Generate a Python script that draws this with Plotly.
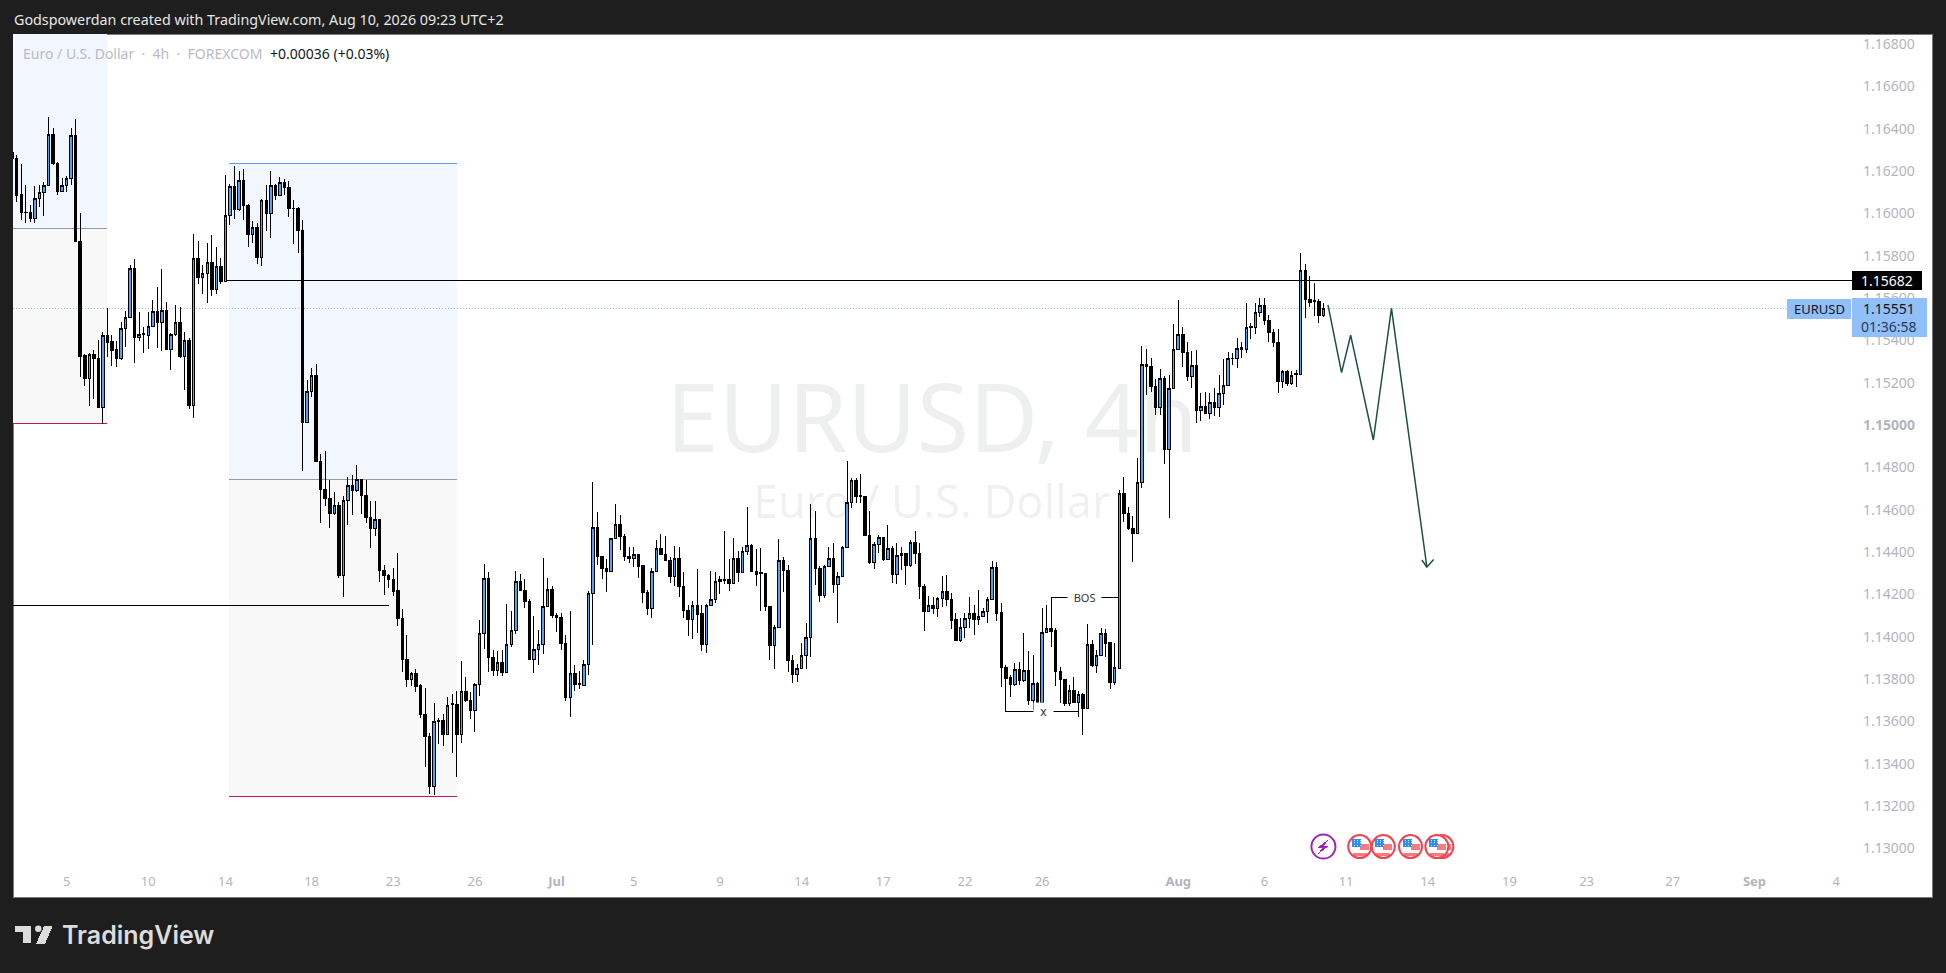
import plotly.graph_objects as go

# candle data in pipettes (1/100000 of a dollar)
opens_pts = [
116288,116260,116087,116006,116006,115976,116069,116099,116132,116373,
116236,116102,116132,116165,116369,115868,115326,115220,115335,115315,
115083,115424,115392,115357,115313,115457,115509,115740,115414,115430,
115424,115464,115537,115485,115542,115357,115427,115485,115323,115400,
115091,115787,115698,115716,115768,115638,115750,115677,115989,116128,
116019,116156,116038,115899,115934,115792,116061,115998,116132,116083,
116146,116123,116025,116024,115920,115011,115157,115233,114827,114696,
114654,114581,114621,114290,114644,114715,114692,114744,114668,114564,
114511,114555,114314,114290,114271,114216,114087,113893,113797,113824,
113767,113633,113529,113291,113605,113605,113539,113682,113681,113539,
113742,113699,113652,113775,114016,114276,113903,113840,113879,113832,
113964,114030,114262,114219,114167,113893,113940,113964,114144,114224,
114101,114092,113969,113712,113827,113777,113770,113870,114205,114517,
114378,114323,114307,114465,114531,114474,114380,114369,114389,114334,
114210,114133,114309,114418,114389,114361,114284,114370,114238,114125,
114081,114148,114107,113964,114145,114176,114261,114271,114271,114250,
114370,114304,114403,114431,114308,114301,114299,114143,113957,114044,
114360,114313,113889,113820,113850,113912,113997,114464,114324,114193,
114332,114371,114247,114286,114422,114634,114740,114668,114664,114480,
114349,114436,114469,114364,114417,114293,114384,114393,114335,114445,
114393,114239,114118,114148,114134,114179,114214,114176,114082,113984,
114044,114086,114107,114082,114096,114119,114176,114329,114112,113856,
113806,113776,113845,113792,113838,113697,113779,113688,114020,114039,
114027,113836,113798,113682,113746,113689,113727,113661,113964,113866,
113912,114015,113970,113782,113850,114677,114582,114512,114488,114729,
115287,115277,115184,115083,115220,114885,115173,115357,115428,115343,
115228,115282,115068,115088,115053,115107,115082,115149,115187,115316,
115315,115364,115357,115463,115461,115532,115565,115494,115438,115390,
115205,115253,115195,115241,115239,115731,115594,115586,115584,115518]

highs_pts = [
116291,116276,116233,116134,116039,116129,116134,116150,116455,116402,
116241,116165,116176,116402,116446,116000,115335,115338,115354,115401,
115441,115551,115425,115397,115485,115539,115756,115783,115532,115464,
115532,115590,115650,115735,115579,115433,115567,115556,115438,115409,
115902,115869,115756,115858,115898,115839,115787,116181,116137,116224,
116200,116209,116043,115964,115956,116066,116134,116200,116137,116170,
116161,116153,116063,116031,115968,115212,115268,115288,114863,114878,
114740,114685,114637,114665,114753,114764,114811,114746,114740,114641,
114641,114557,114339,114296,114326,114397,114131,114008,113833,113847,
113777,113756,113543,113688,113614,113633,113717,113729,113744,113887,
113810,113740,113780,114079,114344,114307,113937,113934,113937,114155,
114122,114311,114296,114271,114178,114098,114032,114372,114277,114240,
114112,114110,114008,114122,113866,113838,113890,114216,114731,114589,
114381,114367,114468,114627,114575,114484,114424,114424,114391,114339,
114221,114323,114457,114485,114476,114378,114429,114424,114307,114150,
114169,114320,114149,114154,114310,114307,114288,114499,114365,114464,
114406,114422,114614,114436,114414,114420,114302,114145,114055,114461,
114375,114338,113913,113871,113968,114066,114627,114595,114334,114338,
114425,114444,114307,114428,114830,114748,114748,114768,114666,114595,
114449,114480,114471,114527,114428,114444,114425,114397,114456,114499,
114441,114247,114192,114189,114189,114286,114291,114205,114110,114086,
114110,114186,114149,114220,114134,114186,114359,114351,114157,113866,
113819,113874,113882,114019,113934,113913,113787,114134,114149,114184,
114039,113858,113800,113771,113808,113743,113732,114060,113984,113937,
114039,114034,113976,113968,114693,114753,114614,114570,114842,115373,
115359,115315,115216,115264,115231,115236,115477,115590,115461,115392,
115351,115354,115153,115154,115153,115173,115236,115310,115346,115338,
115409,115394,115575,115480,115575,115598,115598,115520,115452,115452,
115260,115260,115255,115260,115811,115761,115704,115669,115594,115575]

lows_pts = [
116236,116055,115968,115953,115961,115953,116031,115989,116130,116228,
116087,116100,116102,116134,115866,115228,115186,115091,115123,115081,
115003,115323,115280,115275,115307,115370,115507,115291,115398,115338,
115359,115461,115362,115351,115355,115260,115422,115315,115165,115077,
115035,115666,115619,115578,115609,115619,115666,115675,115945,115973,
116013,115968,115842,115861,115761,115753,115917,115885,116063,116081,
116087,115984,115855,115814,114784,115009,115134,114825,114539,114618,
114515,114575,114279,114185,114528,114575,114685,114580,114536,114421,
114477,114260,114197,114232,114194,114052,113835,113764,113769,113740,
113618,113386,113257,113252,113493,113485,113537,113452,113339,113499,
113693,113610,113551,113721,113942,113835,113816,113816,113816,113830,
113953,114013,114217,114133,113891,113830,113866,113917,114139,114090,
114024,113939,113696,113622,113745,113753,113769,113819,113961,114339,
114271,114213,114305,114463,114410,114355,114350,114331,114279,114161,
114103,114090,114307,114386,114358,114254,114240,114185,114090,114005,
113991,114016,113934,113921,114143,114157,114201,114249,114217,114247,
114256,114302,114386,114305,114241,114121,114121,113889,113849,114042,
114212,113834,113782,113787,113849,113845,113905,114244,114165,114181,
114331,114205,114066,114283,114420,114606,114630,114630,114475,114343,
114318,114397,114359,114362,114252,114249,114315,114245,114331,114343,
114176,114028,114116,114107,114094,114141,114146,114034,113981,113973,
113992,114039,114008,114055,114094,114066,114173,114075,113763,113645,
113716,113768,113771,113787,113677,113653,113677,113685,114019,113952,
113768,113688,113674,113672,113685,113622,113535,113659,113858,113830,
113908,113905,113754,113771,113848,114543,114504,114351,114486,114701,
115142,115157,115047,115047,114816,114559,115171,115354,115275,115209,
115173,115011,115020,115052,115027,115042,115039,115094,115185,115283,
115268,115318,115342,115406,115430,115509,115472,115394,115370,115153,
115176,115186,115189,115181,115237,115507,115556,115515,115483,115509]

closes_pts = [
116260,116083,116003,116003,115975,116071,116099,116132,116373,116235,
116102,116132,116165,116369,115868,115323,115220,115335,115315,115083,
115424,115389,115354,115315,115457,115509,115740,115414,115427,115427,
115464,115537,115485,115542,115357,115428,115485,115323,115400,115091,
115787,115698,115716,115768,115638,115750,115677,115989,116128,116019,
116156,116036,115898,115934,115792,116061,115998,116132,116083,116146,
116121,116022,116022,115920,115011,115157,115233,114827,114693,114652,
114581,114621,114287,114644,114715,114692,114744,114666,114563,114511,
114555,114312,114288,114271,114214,114085,113892,113797,113824,113764,
113632,113528,113291,113600,113600,113539,113676,113679,113539,113742,
113698,113652,113775,114016,114276,113901,113840,113879,113832,113964,
114030,114262,114219,114167,113893,113940,113964,114144,114224,114099,
114090,113969,113712,113827,113773,113773,113870,114205,114517,114378,
114323,114307,114465,114531,114474,114378,114369,114389,114331,114208,
114133,114309,114418,114389,114361,114284,114370,114236,114123,114081,
114148,114104,113964,114145,114176,114261,114271,114267,114250,114370,
114304,114403,114431,114307,114294,114297,114141,113957,114044,114360,
114312,113886,113820,113850,113912,113997,114464,114323,114193,114332,
114371,114247,114286,114422,114634,114738,114664,114664,114477,114349,
114436,114469,114364,114417,114293,114384,114393,114335,114445,114392,
114238,114118,114148,114132,114179,114214,114175,114078,113984,114044,
114086,114107,114082,114096,114119,114176,114329,114110,113853,113801,
113776,113845,113792,113838,113697,113779,113685,114020,114039,114023,
113834,113798,113682,113746,113689,113727,113661,113964,113866,113912,
114015,113968,113782,113855,114677,114582,114512,114488,114729,115287,
115275,115181,115083,115220,114885,115173,115357,115428,115342,115228,
115282,115068,115088,115053,115107,115082,115149,115187,115315,115313,
115362,115357,115461,115460,115532,115565,115494,115436,115390,115205,
115253,115195,115235,115238,115731,115592,115578,115583,115518,115551]

time_tick_index = [12,30,47,66,84,102,120,137,156,174,192,210,227,257,276,294,312,330,347,366,384,402]
time_tick_label = ["5","10","14","18","23","26","<b>Jul</b>","5","9","14","17","22","26","<b>Aug</b>","6","11","14","19","23","27","<b>Sep</b>","4"]
price_ticks = [1.13 + 0.002 * k for k in range(20)]

last_price = 1.15551
level_price = 1.15682
level2_price = 1.14147
bos_price = 1.14184
x_price = 1.13645
zone1 = dict(end=21, mid=1.15929, low=1.15008)
zone2 = dict(start=47.8, end=98, top=1.16236, mid=1.14743, low=1.13246)
path_index = [290, 293, 295, 300, 304, 311.8]
path_price = [1.15567, 1.15247, 1.15424, 1.14929, 1.15551, 1.14329]
head_index = [310.7, 311.8, 313.3]
head_price = [1.14362, 1.14329, 1.14365]
flag_index = [297, 302.2, 308.2, 315.1, 314]
bolt_index = 289
event_price = 1.13008

# pixel frame of the plot
W, H = 1946, 973
PL, PR, PT, PB = 13, 1852, 34, 868
def px(x): return (x - PL) / (PR - PL)
def py(y): return 1 - (y - PT) / (PB - PT)

y_top = 1.16847
y_bot = 1.12907
x_lo, x_hi = 0.184, 405.5

idx = list(range(len(opens_pts)))
fig = go.Figure()
fig.add_trace(go.Candlestick(
    x=idx,
    open=[v / 1e5 for v in opens_pts], high=[v / 1e5 for v in highs_pts],
    low=[v / 1e5 for v in lows_pts], close=[v / 1e5 for v in closes_pts],
    increasing=dict(line=dict(color="#000000", width=1), fillcolor="#5b9cf6"),
    decreasing=dict(line=dict(color="#000000", width=1), fillcolor="#000000"),
    whiskerwidth=0, hoverinfo="skip", showlegend=False))
GREEN = "#1f4f45"
fig.add_trace(go.Scatter(x=path_index, y=path_price, mode="lines",
                         line=dict(color=GREEN, width=1.5), hoverinfo="skip", showlegend=False))
fig.add_trace(go.Scatter(x=head_index, y=head_price, mode="lines",
                         line=dict(color=GREEN, width=1.5), hoverinfo="skip", showlegend=False))

shapes = []
def paper_rect(x0, y0, x1, y1, fill, line=None, layer="above"):
    shapes.append(dict(type="rect", xref="paper", yref="paper", x0=px(x0), x1=px(x1), y0=py(y0), y1=py(y1),
                       fillcolor=fill, line=dict(color=line or fill, width=1 if line else 0), layer=layer))
paper_rect(13, 34, 1932, 897, "#ffffff", line="#7a7a7a", layer="below")

BLUEFILL = "#f2f7ff"
GRAYFILL = "#f8f8f8"
def zone(x0, x1, top, mid, low, topline=None):
    shapes.append(dict(type="rect", x0=x0, x1=x1, y0=mid, y1=top, fillcolor=BLUEFILL, line=dict(width=0), layer="below"))
    shapes.append(dict(type="rect", x0=x0, x1=x1, y0=low, y1=mid, fillcolor=GRAYFILL, line=dict(width=0), layer="below"))
    shapes.append(dict(type="line", x0=x0, x1=x1, y0=mid, y1=mid, line=dict(color="#9a9a9a", width=1), layer="below"))
    shapes.append(dict(type="line", x0=x0, x1=x1, y0=low, y1=low, line=dict(color="#c2185b", width=1), layer="below"))
    if topline:
        shapes.append(dict(type="line", x0=x0, x1=x1, y0=top, y1=top, line=dict(color=topline, width=1), layer="below"))
zone(x_lo, zone1["end"], y_top, zone1["mid"], zone1["low"])
zone(zone2["start"], zone2["end"], zone2["top"], zone2["mid"], zone2["low"], topline="#5b9cf6")
shapes.append(dict(type="line", x0=x_lo, x1=x_hi, y0=last_price, y1=last_price,
                   line=dict(color="#90bff9", width=1, dash="1px,2px"), layer="below"))
shapes.append(dict(type="line", x0=47.3, x1=x_hi, y0=level_price, y1=level_price, line=dict(color="#000", width=1)))
shapes.append(dict(type="line", x0=x_lo, x1=83, y0=level2_price, y1=level2_price, line=dict(color="#000", width=1)))
shapes.append(dict(type="line", x0=229, x1=244, y0=bos_price, y1=bos_price, line=dict(color="#000", width=1)))
shapes.append(dict(type="line", x0=219, x1=235, y0=x_price, y1=x_price, line=dict(color="#000", width=1)))

# event badges
def badge(kind, xa, yp, **kw):
    shapes.append(dict(type=kind, xref="x", yref="y", xsizemode="pixel", ysizemode="pixel", xanchor=xa, yanchor=yp, **kw))
for fx in flag_index:
    badge("circle", fx, event_price, x0=-12, x1=12, y0=-12, y1=12, fillcolor="#ffffff", line=dict(width=0))
    badge("rect", fx, event_price, x0=0, x1=9, y0=-3, y1=3, fillcolor="#f77c80", line=dict(width=0))
    badge("rect", fx, event_price, x0=-7, x1=7, y0=-9, y1=-6, fillcolor="#f77c80", line=dict(width=0))
    badge("rect", fx, event_price, x0=-8, x1=1, y0=0, y1=8, fillcolor="#2d8fe9", line=dict(width=0))
    for dx in (-6, -3, 0):
        for dy in (1, 4, 6):
            badge("rect", fx, event_price, x0=dx, x1=dx + 1, y0=dy, y1=dy + 1, fillcolor="#cfe6fb", line=dict(width=0))
    badge("circle", fx, event_price, x0=-11.5, x1=11.5, y0=-11.5, y1=11.5, line=dict(color="#f2434f", width=2))
badge("circle", bolt_index, event_price, x0=-12, x1=12, y0=-12, y1=12, fillcolor="#ffffff", line=dict(color="#9c27b0", width=2))
shapes.append(dict(type="path", xref="x", yref="y", xsizemode="pixel", ysizemode="pixel",
                   xanchor=bolt_index, yanchor=event_price,
                   path="M 5,7 L -6,-1 L -1,-1 L -5,-7 L 6,1 L 1,1 Z", fillcolor="#9c27b0", line=dict(width=0)))

# value tags
paper_rect(1852, 271, 1922, 290, "#000000")
paper_rect(1787, 299, 1851, 319, "#90bff9")
paper_rect(1852, 298, 1927, 337, "#90bff9")

# TradingView logo
def pts(lst):
    return "M " + " L ".join(f"{px(x):.5f},{py(y):.5f}" for x, y in lst) + " Z"
LOGO = "#dcdcdc"
shapes.append(dict(type="path", xref="paper", yref="paper", fillcolor=LOGO, line=dict(width=0),
                   path=pts([(15.3, 925.7), (30.7, 925.7), (30.7, 943.3), (22.7, 943.3), (22.7, 931.7), (15.3, 931.7)])))
shapes.append(dict(type="path", xref="paper", yref="paper", fillcolor=LOGO, line=dict(width=0),
                   path=pts([(44.3, 925.7), (52.7, 925.7), (45, 944), (36, 944)])))
shapes.append(dict(type="circle", xref="paper", yref="paper", fillcolor=LOGO, line=dict(width=0),
                   x0=px(35), x1=px(41.5), y0=py(925.5), y1=py(932)))

FONT = "Noto Sans"
ann = []
def text(x, y, s, size, color, anchor="left", bg=None):
    d = dict(xref="paper", yref="paper", x=px(x), y=py(y), text=s, showarrow=False, xanchor=anchor, yanchor="middle",
             font=dict(family=FONT, size=size, color=color), borderpad=0)
    if bg: d["bgcolor"] = bg
    ann.append(d)
text(13, 19, "Godspowerdan created with TradingView.com, Aug 10, 2026 09:23 UTC+2", 14.3, "#e6e6e6")
text(22, 54, "Euro / U.S. Dollar&nbsp;&nbsp;·&nbsp;&nbsp;4h&nbsp;&nbsp;·&nbsp;&nbsp;FOREXCOM", 14, "#b8bbc4")
text(269, 54, "+0.00036 (+0.03%)", 14, "#131722")
text(932, 415, "EURUSD, 4h", 95, "rgba(19,23,34,0.07)", anchor="center")
text(932, 500, "Euro / U.S. Dollar", 45, "rgba(19,23,34,0.07)", anchor="center")
text(1084, 597.5, "&nbsp;&nbsp;BOS&nbsp;&nbsp;", 11, "#333333", anchor="center", bg="#ffffff")
text(1043, 711, "&nbsp;&nbsp;x&nbsp;&nbsp;", 12, "#333333", anchor="center", bg="#ffffff")
text(1887, 281, "1.15682", 14, "#ffffff", anchor="center")
text(1819, 309, "EURUSD", 13, "#131722", anchor="center")
text(1889, 309, "1.15551", 14, "#131722", anchor="center")
text(1889, 326, "01:36:58", 14, "#2a3a55", anchor="center")
ann.append(dict(xref="paper", yref="paper", x=px(60), y=py(935), text="TradingView", showarrow=False,
                xanchor="left", yanchor="middle", font=dict(family="Inter", size=25, color=LOGO, weight=600)))

fig.update_layout(
    width=W, height=H, margin=dict(l=PL, r=W - PR, t=PT, b=H - PB, pad=0),
    paper_bgcolor="#1e1e1e", plot_bgcolor="#ffffff", showlegend=False, hovermode=False,
    boxgap=0.22,
    shapes=shapes, annotations=ann,
    xaxis=dict(range=[x_lo, x_hi], rangeslider=dict(visible=False), showgrid=False, zeroline=False,
               showline=False, ticks="", tickmode="array", tickvals=time_tick_index, ticktext=time_tick_label,
               tickangle=0, tickfont=dict(family=FONT, size=13, color="#b2b5be"), ticklabelstandoff=4),
    yaxis=dict(range=[y_bot, y_top], side="right", showgrid=False, zeroline=False, showline=False, ticks="",
               tickmode="array", tickvals=price_ticks,
               ticktext=[("<b>%.5f</b>" if abs(v - 1.15) < 1e-9 else "%.5f") % v for v in price_ticks],
               tickfont=dict(family=FONT, size=14, color="#b2b5be"), ticklabelstandoff=10),
)
crisp = """
document.body.style.margin='0';document.body.style.background='#1e1e1e';
function crisp(){
  document.querySelectorAll('.boxlayer path').forEach(function(p){p.style.shapeRendering='crispEdges';});
  document.querySelectorAll('.shapelayer path').forEach(function(p){
    var d=p.getAttribute('d')||''; if(!/[ACQ]/.test(d)) p.style.shapeRendering='crispEdges';});
}
crisp();setTimeout(crisp,0);
"""
fig.write_html("out.html", config=dict(displayModeBar=False), post_script=crisp)
